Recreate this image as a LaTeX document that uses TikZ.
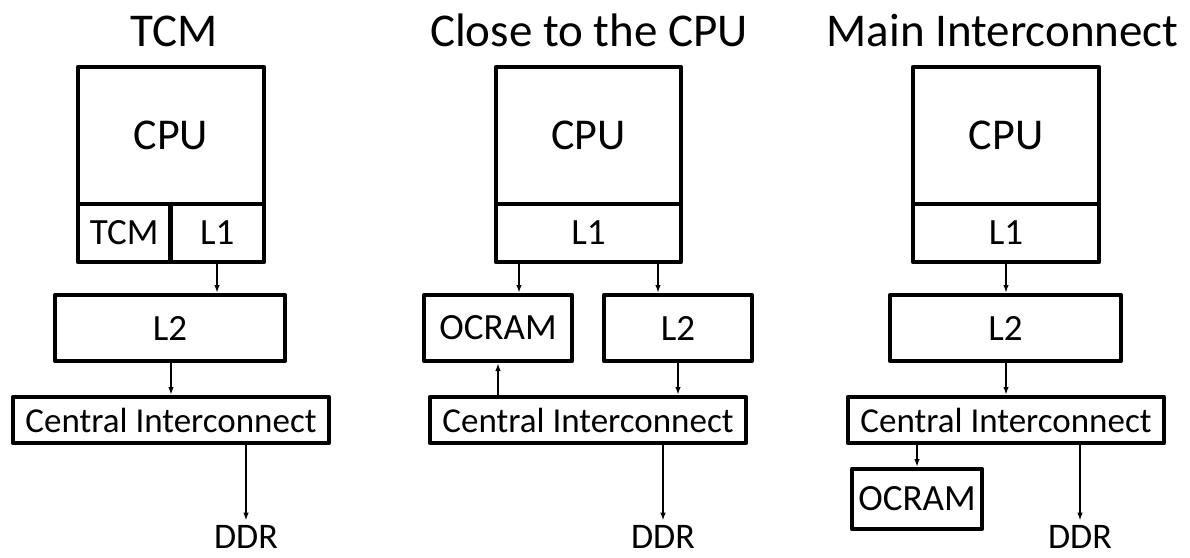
\documentclass[tikz,border=0pt]{standalone}
\usepackage{fontspec}
\setmainfont{Carlito}
\usetikzlibrary{arrows.meta}

\begin{document}
\begin{tikzpicture}[x=1pt,y=-1pt,
  blk/.style={draw, line width=4.5pt, line join=round, inner sep=0pt, outer sep=0pt,
              font=\fontsize{37}{44}\selectfont},
  cpublk/.style={blk, font=\fontsize{44}{52}\selectfont},
  ciblk/.style={blk, font=\fontsize{35}{42}\selectfont},
  ttl/.style={anchor=base, inner sep=0pt, font=\fontsize{47}{56}\selectfont},
  ddrlbl/.style={anchor=base, inner sep=0pt, font=\fontsize{36}{43}\selectfont},
  arr/.style={-{Latex[length=8pt,width=5.5pt]}, line width=2pt, shorten >=2pt},
  ddrarr/.style={arr, shorten >=4pt}
]
\useasboundingbox (0,0) rectangle (1190,557);

% ---------- TCM ----------
\node[ttl] (t1) at (174,46) {TCM};
\node[cpublk, minimum width=186pt, minimum height=137pt] (cpu1) at (171,135.5) {CPU};
\node[blk, minimum width=92.5pt, minimum height=58pt] (tcm1) at (124.25,233) {TCM};
\node[blk, minimum width=93.5pt, minimum height=58pt] (l1a) at (217.25,233) {L1};
\node[blk, minimum width=230pt, minimum height=66pt] (l2a) at (170,328) {L2};
\node[ciblk, minimum width=316pt, minimum height=46pt] (ci1) at (171,420) {Central Interconnect};
\node[ddrlbl] (ddr1) at (246,548) {DDR};
\draw[arr] (217,0 |- l1a.south) -- (217,0 |- l2a.north);
\draw[arr] (171,0 |- l2a.south) -- (171,0 |- ci1.north);
\draw[ddrarr] (246,0 |- ci1.south) -- (ddr1.north);

% ---------- Close to the CPU ----------
\node[ttl] (t2) at (589,46) {Close to the CPU};
\node[cpublk, minimum width=185pt, minimum height=137pt] (cpu2) at (588.5,135.5) {CPU};
\node[blk, minimum width=185pt, minimum height=58pt] (l1b) at (588.5,233) {L1};
\node[blk, minimum width=148pt, minimum height=66pt] (ocb) at (498,328) {OCRAM};
\node[blk, minimum width=148pt, minimum height=66pt] (l2b) at (678,328) {L2};
\node[ciblk, minimum width=316pt, minimum height=46pt] (ci2) at (588,420) {Central Interconnect};
\node[ddrlbl] (ddr2) at (663,548) {DDR};
\draw[arr] (519,0 |- l1b.south) -- (519,0 |- ocb.north);
\draw[arr] (658,0 |- l1b.south) -- (658,0 |- l2b.north);
\draw[arr] (498,0 |- ci2.north) -- (498,0 |- ocb.south);
\draw[arr] (678,0 |- l2b.south) -- (678,0 |- ci2.north);
\draw[ddrarr] (663,0 |- ci2.south) -- (ddr2.north);

% ---------- Main Interconnect ----------
\node[ttl] (t3) at (1002.5,46) {Main Interconnect};
\node[cpublk, minimum width=186pt, minimum height=137pt] (cpu3) at (1006,135.5) {CPU};
\node[blk, minimum width=186pt, minimum height=58pt] (l1c) at (1006,233) {L1};
\node[blk, minimum width=231pt, minimum height=66pt] (l2c) at (1005.5,328) {L2};
\node[ciblk, minimum width=316pt, minimum height=46pt] (ci3) at (1006,420) {Central Interconnect};
\node[blk, minimum width=130pt, minimum height=60pt] (occ) at (917,499) {OCRAM};
\node[ddrlbl] (ddr3) at (1080,548) {DDR};
\draw[arr] (1006,0 |- l1c.south) -- (1006,0 |- l2c.north);
\draw[arr] (1006,0 |- l2c.south) -- (1006,0 |- ci3.north);
\draw[arr] (917,0 |- ci3.south) -- (917,0 |- occ.north);
\draw[ddrarr] (1080,0 |- ci3.south) -- (ddr3.north);
\end{tikzpicture}
\end{document}
